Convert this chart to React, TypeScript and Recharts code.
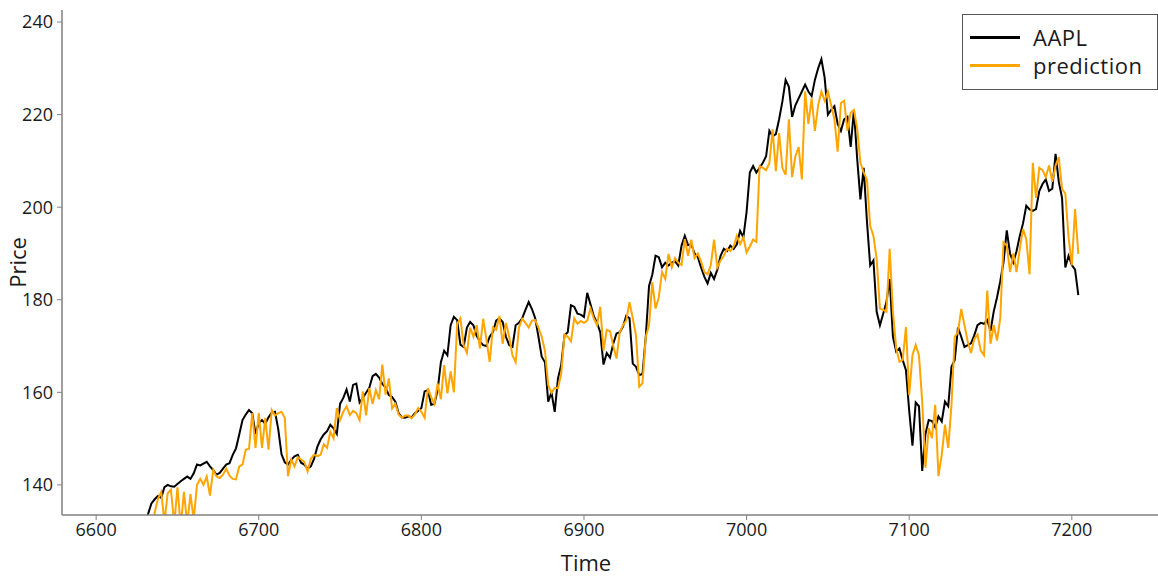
import { Legend, Line, LineChart, XAxis, YAxis } from "recharts";

// daily samples, every second day from day 6630
const startTime = 6630;
const stepDays = 2;

const aapl = [
  131.5, 133.8, 136.0, 136.9, 137.6, 137.2, 139.5, 140.0, 139.7, 139.6,
  140.2, 140.8, 141.3, 141.8, 141.3, 142.5, 144.4, 144.2, 144.6, 145.0,
  144.0, 143.2, 142.2, 142.6, 143.5, 144.4, 144.7, 146.5, 147.9, 150.9,
  154.0, 155.2, 156.2, 155.5, 151.0, 153.4, 154.0, 153.2, 154.6, 155.6,
  155.8, 152.0, 146.6, 144.9, 144.4, 145.4, 146.2, 146.5, 144.8, 144.4,
  143.5, 144.0, 145.6, 148.2, 149.8, 150.9, 151.6, 153.0, 152.2, 151.0,
  157.5, 158.8, 160.6, 158.0, 161.6, 161.9, 157.8, 158.8, 159.9, 161.0,
  163.5, 164.0, 163.2, 161.8, 161.0, 159.4, 159.0, 158.0, 155.5, 154.6,
  154.5, 154.8, 154.6, 155.5, 156.0, 156.6, 160.2, 160.5, 157.3, 157.5,
  160.5, 166.5, 169.0, 168.0, 174.5, 176.3, 175.6, 170.3, 169.8, 174.0,
  175.2, 174.5, 172.2, 171.0, 170.2, 170.0, 172.0, 173.0, 175.5, 176.0,
  175.2, 172.0, 170.2, 169.8, 174.5, 175.0, 176.0, 177.8, 179.5, 178.0,
  176.0, 172.0, 167.7, 166.5, 158.0, 160.0, 155.8, 163.0, 165.9, 172.3,
  173.0, 178.8, 178.5, 177.0, 176.8, 176.3, 181.5, 179.0, 176.5, 175.0,
  173.0, 166.0, 168.5, 167.5, 170.5, 172.7, 173.0, 174.2, 176.5, 176.0,
  166.2, 165.5, 163.7, 164.0, 172.0, 183.0, 185.4, 189.5, 189.2, 187.0,
  188.0, 187.4, 188.0, 188.3, 187.4, 191.7, 193.8, 191.8, 192.0, 190.0,
  189.2, 187.0, 185.0, 183.5, 185.8, 184.5, 186.5, 189.5, 191.0, 190.5,
  191.7, 191.0, 192.0, 194.9, 193.5, 199.0, 207.5, 208.9, 207.5, 208.5,
  209.6, 211.0, 216.5, 215.3, 215.8, 219.0, 222.8, 227.5, 226.0, 219.5,
  222.0, 223.5, 225.0, 226.5, 225.0, 224.0, 227.5, 230.0, 232.0, 228.0,
  220.0, 221.0, 221.8, 218.0, 216.5, 219.0, 219.5, 213.0, 221.0, 210.5,
  201.7, 208.5, 197.0, 187.4, 188.5, 177.4, 174.5, 177.0, 179.5, 184.5,
  172.0, 168.8, 169.5, 167.0, 164.8, 156.0, 148.5, 157.8, 157.0, 143.0,
  151.0, 154.0, 153.8, 152.5, 154.8, 153.7, 158.0, 157.0, 165.5, 167.0,
  174.0, 172.0, 169.8, 170.2, 170.6, 172.3, 174.5, 175.0, 174.8, 175.6,
  173.3, 177.5, 180.5, 184.0, 188.1, 195.0, 190.0, 188.1, 190.5, 193.8,
  196.5, 200.3, 199.5, 199.2, 199.6, 203.5, 205.0, 206.0, 203.5, 204.0,
  211.5, 205.5, 202.0, 187.0, 189.5, 187.5, 186.5, 181.0,
];

const prediction = [
  128.0, 130.0, 131.0, 134.0, 137.0, 138.5, 132.0, 138.2, 139.0, 131.5,
  139.5, 131.0, 138.5, 131.5, 138.0, 132.5, 140.0, 141.3, 140.0, 141.8,
  137.7, 143.2, 141.8, 141.5, 142.2, 143.5, 142.0, 141.3, 141.2, 144.0,
  144.4, 147.6, 147.8, 155.5, 148.0, 155.5, 148.0, 154.5, 147.6, 156.2,
  155.0, 155.5, 155.8, 154.5, 141.9, 145.5, 144.0, 146.0, 145.5, 145.0,
  142.9, 145.6, 146.5, 146.2, 146.5, 148.8, 148.0, 151.5, 150.1, 156.6,
  154.0, 155.8, 157.0, 155.1, 156.0, 155.5, 154.0, 160.2, 155.0, 160.9,
  157.5, 160.5, 158.5, 166.0, 159.5, 163.0, 156.5, 157.5, 155.2, 154.5,
  155.0, 155.0, 154.4, 155.2, 156.6, 155.8, 154.5, 160.9, 159.0, 157.5,
  161.9, 158.5, 165.9, 159.8, 164.5, 160.0, 174.8, 176.0, 170.2, 168.5,
  174.0, 172.0, 174.5, 169.5, 175.9, 171.5, 166.6, 174.0, 173.5, 176.5,
  170.5, 175.0, 172.0, 168.0, 166.5, 174.0, 175.9, 175.0, 174.0, 175.5,
  175.6, 174.0, 172.0, 169.0, 161.6, 159.9, 161.0, 160.9, 164.0, 172.5,
  172.0, 171.0, 176.0, 174.8, 175.4, 175.0, 175.5, 178.1, 176.0, 174.5,
  178.5, 169.0, 173.5, 173.2, 170.0, 167.3, 173.0, 174.5, 175.5, 179.5,
  176.0, 172.3, 161.2, 162.0, 172.0, 174.5, 183.8, 178.1, 180.5, 186.0,
  184.5, 189.9, 187.0, 189.0, 188.0, 187.5, 193.1, 189.5, 193.0, 189.0,
  190.0, 188.3, 186.0, 185.5, 187.5, 193.0, 187.0, 188.5, 189.5, 191.0,
  190.5, 191.5, 193.8, 192.0, 193.5, 190.2, 191.5, 193.0, 192.5, 208.9,
  208.5, 208.0, 209.5, 216.8, 207.8, 216.0, 208.5, 207.0, 219.0, 206.5,
  211.0, 213.0, 206.0, 225.0, 218.0, 223.5, 216.5, 222.0, 225.0, 223.0,
  225.0, 222.0, 219.0, 212.0, 222.5, 223.0, 216.5, 220.4, 221.0, 217.0,
  209.6, 207.5, 206.0, 196.0, 193.8, 188.8, 178.1, 177.8, 177.4, 191.0,
  177.4, 169.5, 166.6, 167.0, 174.1, 159.4, 168.0, 170.2, 168.0, 158.0,
  143.7, 152.3, 150.1, 157.3, 141.9, 146.5, 153.0, 148.0, 157.3, 172.0,
  173.0, 178.0, 174.5, 171.0, 168.5, 171.5, 172.5, 169.0, 168.0, 182.0,
  170.5, 174.5, 171.2, 176.0, 192.4, 191.7, 186.0, 190.0, 186.0, 191.0,
  195.3, 193.1, 185.5, 209.6, 202.0, 208.5, 208.0, 206.5, 209.0, 205.5,
  209.0, 210.8, 203.9, 203.0, 193.5, 187.4, 199.6, 189.9,
];

const timeTicks = [6600, 6700, 6800, 6900, 7000, 7100, 7200];
const priceTicks = [140, 160, 180, 200, 220, 240];

const rows = aapl.map((price, i) => ({
  time: startTime + i * stepDays,
  AAPL: price,
  prediction: prediction[i],
}));

const series = [
  { key: "AAPL", color: "#000000" },
  { key: "prediction", color: "#ffa500" },
];

const font = "'Open Sans', 'DejaVu Sans', sans-serif";
const spine = "#808080";
const ink = "#1a1a1a";

function LegendBox() {
  return (
    <div
      style={{
        border: "1px solid #555",
        background: "#fff",
        boxSizing: "border-box",
        height: 76,
        padding: "8px 0 0 7px",
        fontFamily: font,
        fontSize: 22,
        color: ink,
      }}
    >
      {series.map((s) => (
        <div key={s.key} style={{ display: "flex", alignItems: "center", height: 28 }}>
          <span style={{ display: "inline-block", width: 50, height: 3, background: s.color, marginRight: 13 }} />
          <span style={{ lineHeight: "28px", letterSpacing: 0.5 }}>{s.key}</span>
        </div>
      ))}
    </div>
  );
}

export default function App() {
  return (
    <div style={{ position: "absolute", left: 0, top: 0, fontFamily: font, background: "#fff" }}>
      <LineChart width={1158} height={576} data={rows} margin={{ top: 10, right: 0, bottom: 0, left: 0 }}>
        <XAxis
          dataKey="time"
          type="number"
          domain={[6579, 7253]}
          allowDataOverflow
          ticks={timeTicks}
          height={61}
          tickSize={5}
          tickMargin={3}
          axisLine={{ stroke: spine, strokeWidth: 1.5 }}
          tickLine={{ stroke: spine }}
          tick={{ fill: ink, fontSize: 18, fontFamily: font }}
          label={{ value: "Time", position: "insideBottom", offset: 5, dx: -24, style: { fontSize: 22, fill: ink, fontFamily: font } }}
        />
        <XAxis
          xAxisId="top"
          orientation="top"
          dataKey="time"
          type="number"
          domain={[6579, 7253]}
          height={0}
          tick={false}
          tickLine={false}
          axisLine={{ stroke: spine, strokeWidth: 1.5 }}
        />
        <YAxis
          type="number"
          domain={[133.5, 242.6]}
          allowDataOverflow
          ticks={priceTicks}
          width={62}
          tickSize={5}
          tickMargin={4}
          axisLine={{ stroke: spine, strokeWidth: 1.5 }}
          tickLine={{ stroke: spine }}
          tick={{ fill: ink, fontSize: 18, fontFamily: font }}
          label={{ value: "Price", angle: -90, position: "insideLeft", offset: 18, style: { textAnchor: "middle", fontSize: 22, fill: ink, fontFamily: font } }}
        />
        {/* vertical layout, centred, middle: the legend floats without taking plot space */}
        <Legend
          layout="vertical"
          align="center"
          verticalAlign="middle"
          content={() => <LegendBox />}
          wrapperStyle={{ position: "absolute", left: 962, top: 14, width: 196 }}
        />
        <Line dataKey="AAPL" type="linear" stroke="#000000" strokeWidth={2} dot={false} isAnimationActive={false} />
        <Line dataKey="prediction" type="linear" stroke="#ffa500" strokeWidth={2} dot={false} isAnimationActive={false} />
      </LineChart>
    </div>
  );
}
